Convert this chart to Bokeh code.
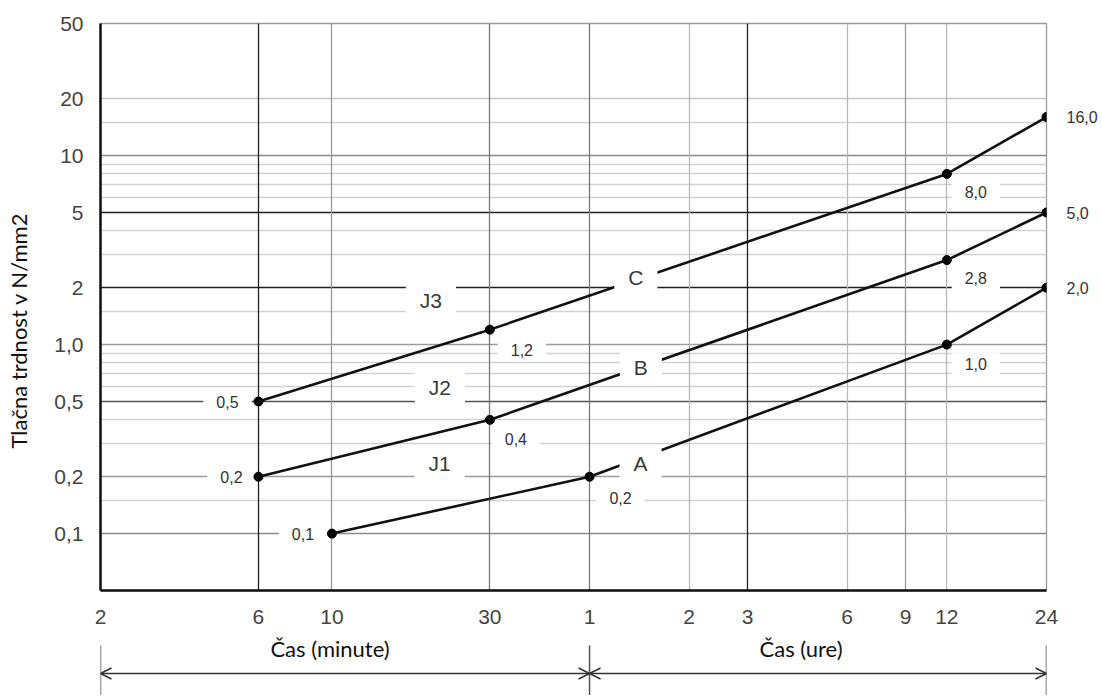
import math
from bokeh.plotting import figure
from bokeh.models import (Range1d, FixedTicker, Grid, ColumnDataSource, LogAxis,
                          LinearAxis, LinearScale, Arrow, OpenHead)
from bokeh.layouts import column
from bokeh.embed import file_html
from bokeh.resources import INLINE
from bokeh.core.properties import value

# ---------------- data (time in minutes, strength in N/mm2) ----------------
j1_x = [10, 60, 720, 1440]
j1_y = [0.1, 0.2, 1.0, 2.0]
j2_x = [6, 30, 720, 1440]
j2_y = [0.2, 0.4, 2.8, 5.0]
j3_x = [6, 30, 720, 1440]
j3_y = [0.5, 1.2, 8.0, 16.0]
series_names = ["J1", "J2", "J3"]
series_codes = ["A", "B", "C"]

x_ticks = [2, 6, 10, 30, 60, 120, 180, 360, 540, 720, 1440]
x_tick_labels = ["2", "6", "10", "30", "1", "2", "3", "6", "9", "12", "24"]
y_ticks = [0.1, 0.2, 0.5, 1.0, 2, 5, 10, 20, 50]
y_tick_labels = ["0,1", "0,2", "0,5", "1,0", "2", "5", "10", "20", "50"]

span_edges = [2, 60, 1440]          # 2 min | 1 h | 24 h
span_titles = ["Čas (minute)", "Čas (ure)"]
y_title = "Tlačna trdnost v N/mm2"

def fmt(v):
    return f"{v:.1f}".replace(".", ",")

LBL_FONT = value("Liberation Sans")
TITLE_FONT = value("Lato")

FRAME_H = 567
p = figure(width=1100, height=635, x_axis_type="log", y_axis_type="log",
           x_range=Range1d(2, 1440), y_range=Range1d(0.05, 50),
           output_backend="svg", toolbar_location=None,
           min_border_left=100, min_border_right=48, min_border_top=23,
           min_border_bottom=45)
p.extra_y_ranges = {"title": Range1d(0, FRAME_H)}
p.extra_y_scales = {"title": LinearScale()}
p.xgrid.visible = False
p.ygrid.visible = False
p.outline_line_color = "#9a9a9a"
p.outline_line_width = 1.3
p.background_fill_color = "white"
p.border_fill_color = "white"

# grid lines (paper)
h_groups = [
    ([0.15, 0.3, 0.4, 0.6, 0.7, 0.8, 0.9, 1.5, 3, 4, 6, 7, 8, 9, 15], "#d2d2d2"),
    ([20], "#c4c4c4"),
    ([0.2, 1.0], "#9c9c9c"),
    ([0.1, 10], "#8a8a8a"),
    ([0.5], "#555555"),
    ([2, 5], "#222222"),
]
v_groups = [
    ([120, 360, 720], "#b8b8b8"),
    ([10, 540], "#999999"),
    ([30, 60], "#777777"),
    ([6, 180], "#222222"),
]
for ticks, col in h_groups:
    p.add_layout(Grid(dimension=1, ticker=FixedTicker(ticks=ticks),
                      grid_line_color=col, grid_line_width=1.3))
for ticks, col in v_groups:
    p.add_layout(Grid(dimension=0, ticker=FixedTicker(ticks=ticks),
                      grid_line_color=col, grid_line_width=1.3))

# axes
p.xaxis.ticker = FixedTicker(ticks=x_ticks)
p.xaxis.major_label_overrides = {t: l for t, l in zip(x_ticks, x_tick_labels)}
p.yaxis.ticker = FixedTicker(ticks=y_ticks)
p.yaxis.major_label_overrides = {t: l for t, l in zip(y_ticks, y_tick_labels)}
for ax in (p.xaxis, p.yaxis):
    ax.major_tick_line_color = None
    ax.minor_tick_line_color = None
    ax.axis_line_color = "#111111"
    ax.axis_line_width = 2.5
    ax.major_label_text_font = "Liberation Sans"
    ax.major_label_text_font_size = "21px"
    ax.major_label_text_color = "#444444"
p.xaxis.major_label_standoff = 13
p.yaxis.major_label_standoff = 11

# y title (drawn as the single tick label of an outer left axis)
title_axis = LinearAxis(y_range_name="title", ticker=FixedTicker(ticks=[260]),
                        major_label_overrides={260: y_title},
                        major_label_orientation="vertical",
                        major_label_standoff=14,
                        major_label_text_font="Lato", major_label_text_font_size="22px",
                        major_label_text_color="#111111",
                        axis_line_color=None, major_tick_line_color=None,
                        minor_tick_line_color=None)
p.add_layout(title_axis, "left")

# end values to the right of the frame (right axis labels)
end_vals = [j3_y[-1], j2_y[-1], j1_y[-1]]
right_axis = LogAxis(ticker=FixedTicker(ticks=end_vals),
                     major_label_overrides={v: fmt(v) for v in end_vals},
                     major_label_standoff=14,
                     major_label_text_font="Liberation Sans",
                     major_label_text_font_size="16px",
                     major_label_text_color="#333333",
                     axis_line_color=None, major_tick_line_color=None,
                     minor_tick_line_color=None)
p.add_layout(right_axis, "right")

# data lines
for xs, ys in ((j1_x, j1_y), (j2_x, j2_y), (j3_x, j3_y)):
    p.line(xs, ys, line_color="#111111", line_width=2.6)

# value labels in white boxes
val_x = [j3_x[0], j2_x[0], j1_x[0], j3_x[1], j2_x[1], j1_x[1], j3_x[2], j2_x[2], j1_x[2]]
val_y = [j3_y[0], j2_y[0], j1_y[0], j3_y[1], j2_y[1], j1_y[1], j3_y[2], j2_y[2], j1_y[2]]
val_dx = [-31, -27, -29, 32, 26, 31, 29, 29, 29]
val_dy = [0, 0, 0, 20, 19, 21, 18, 18, 19]
vsrc = ColumnDataSource(dict(x=val_x, y=val_y, text=[fmt(v) for v in val_y],
                             dx=val_dx, dy=val_dy))
p.text(x="x", y="y", text="text", x_offset="dx", y_offset="dy", source=vsrc,
       text_font=LBL_FONT, text_font_size="16px", text_color="#333333",
       text_align="center", text_baseline="middle",
       background_fill_color="white", padding=(13, 5))

# series names / codes in white boxes (they interrupt the lines)
name_x = [j1_x[1], j2_x[1], j3_x[1], j1_x[1], j2_x[1], j3_x[1]]
name_y = [j1_y[1], j2_y[1], j3_y[1], j1_y[1], j2_y[1], j3_y[1]]
name_dx = [-150, -50, -59, 51, 151, 146]
name_dy = [-13, -32, -29, -13, -52, -52]
nsrc = ColumnDataSource(dict(x=name_x, y=name_y, text=series_names + series_codes,
                             dx=name_dx, dy=name_dy))
p.text(x="x", y="y", text="text", x_offset="dx", y_offset="dy", source=nsrc,
       text_font=LBL_FONT, text_font_size="21px", text_color="#3a3a3a",
       text_align="center", text_baseline="middle",
       background_fill_color="white", padding=(14, 6))

# points
all_x = j1_x + j2_x + j3_x
all_y = j1_y + j2_y + j3_y
p.scatter(all_x, all_y, size=9, color="#000000")

# ---------------- lower strip: time spans with arrows ----------------
STRIP_H = 60
q = figure(width=1100, height=STRIP_H, x_axis_type="log", x_range=p.x_range,
           y_range=Range1d(0, STRIP_H), x_axis_location=None, y_axis_location=None,
           output_backend="svg", toolbar_location=None,
           min_border_left=100, min_border_right=48, min_border_top=0, min_border_bottom=0)
q.grid.visible = False
q.outline_line_color = None
q.border_fill_color = "white"

q.segment(x0=span_edges, y0=[0] * 3, x1=span_edges, y1=[50] * 3,
          line_color="#555555", line_width=1.5)
for a, b in zip(span_edges[:-1], span_edges[1:]):
    q.add_layout(Arrow(x_start=a, y_start=22, x_end=b, y_end=22,
                       start=OpenHead(size=11, line_width=1.5, line_color="#333333"),
                       end=OpenHead(size=11, line_width=1.5, line_color="#333333"),
                       line_color="#333333", line_width=1.5))
mid_x = [math.sqrt(a * b) for a, b in zip(span_edges[:-1], span_edges[1:])]
q.text(x=mid_x, y=[47, 47], text=span_titles, x_offset=[-15, -17],
       text_font=TITLE_FONT, text_font_size="22px", text_color="#111111",
       text_align="center", text_baseline="middle")

layout = column(p, q, spacing=0)
open("out.html", "w").write(file_html(layout, INLINE))
